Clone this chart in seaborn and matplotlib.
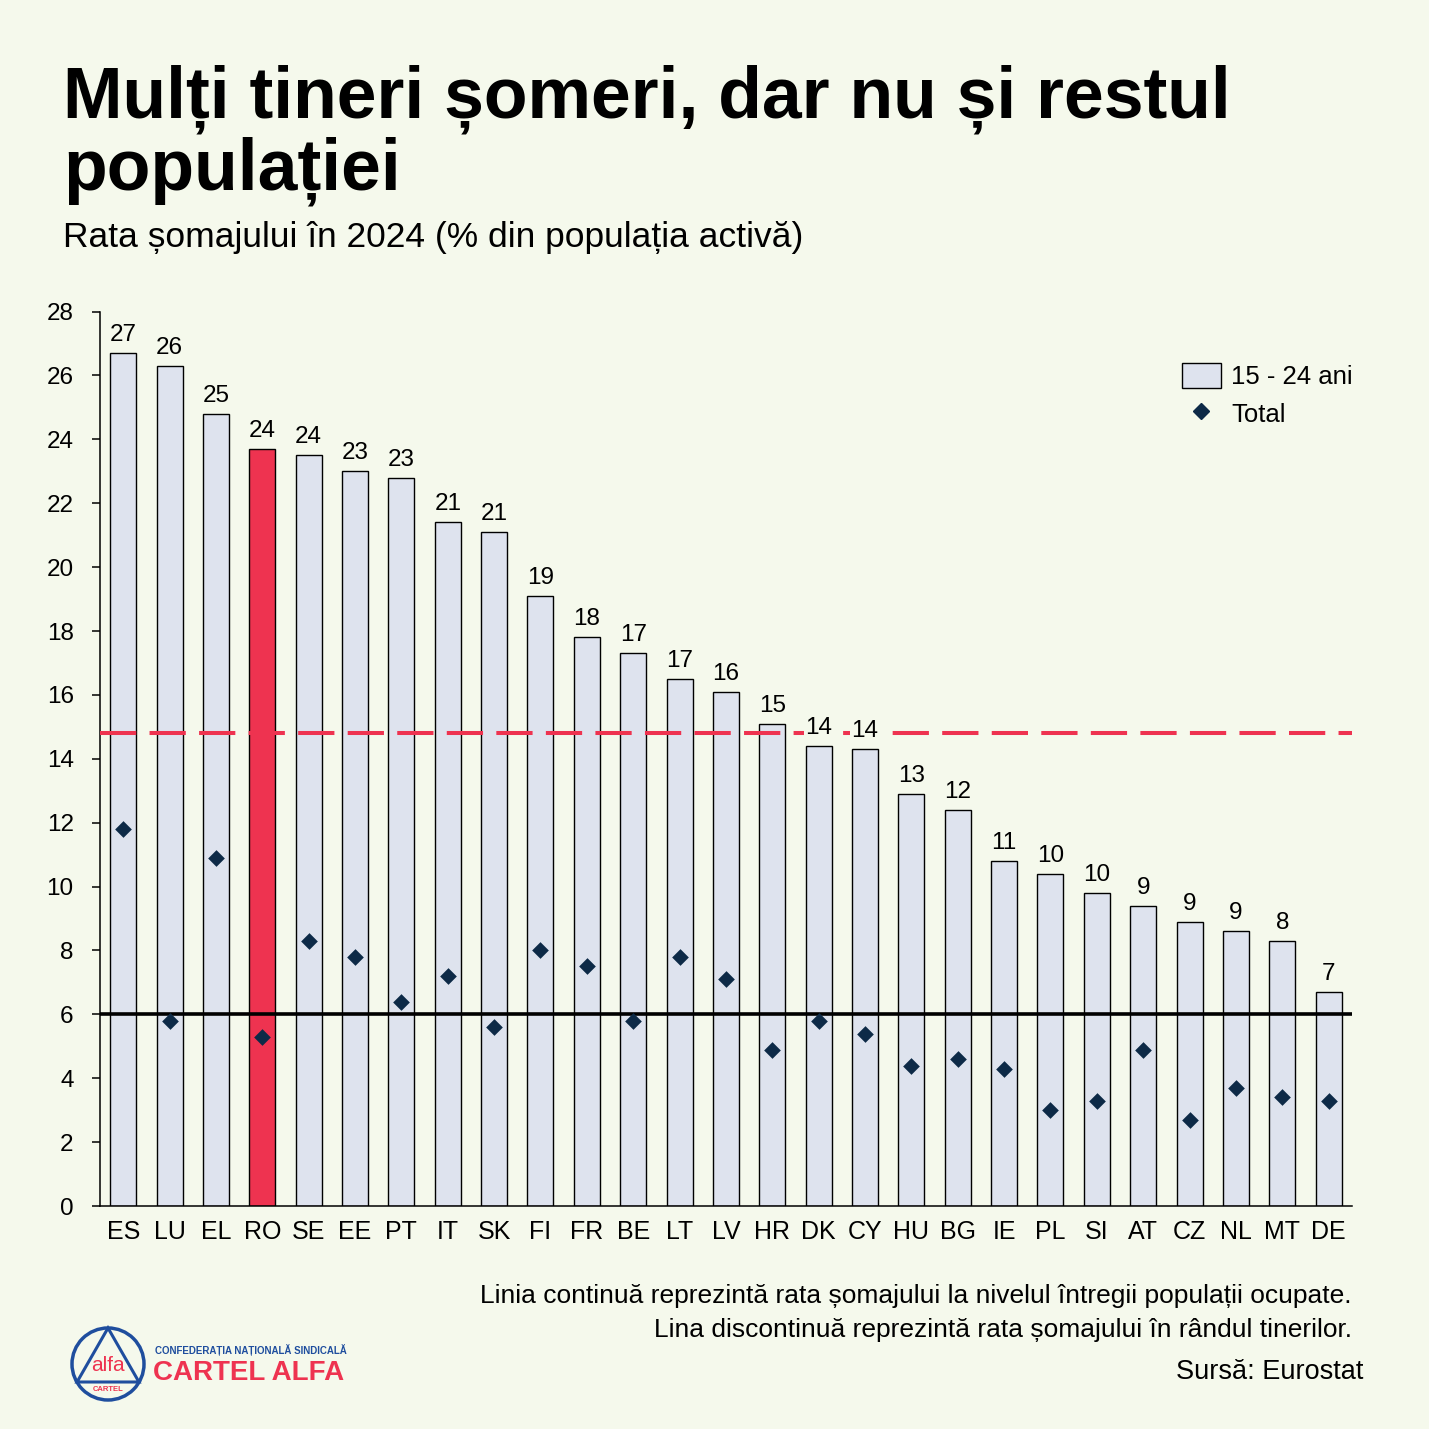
import matplotlib.pyplot as plt
import matplotlib.patches as mpatches
from matplotlib.lines import Line2D
import seaborn as sns
import pandas as pd

# Data (rata somajului 2024, % din populatia activa)
countries = ['ES', 'LU', 'EL', 'RO', 'SE', 'EE', 'PT', 'IT', 'SK', 'FI', 'FR', 'BE', 'LT', 'LV',
             'HR', 'DK', 'CY', 'HU', 'BG', 'IE', 'PL', 'SI', 'AT', 'CZ', 'NL', 'MT', 'DE']
youth = [26.7, 26.3, 24.8, 23.7, 23.5, 23.0, 22.8, 21.4, 21.1, 19.1, 17.8, 17.3, 16.5, 16.1,
         15.1, 14.4, 14.3, 12.9, 12.4, 10.8, 10.4, 9.8, 9.4, 8.9, 8.6, 8.3, 6.7]
total = [11.8, 5.8, 10.9, 5.3, 8.3, 7.8, 6.4, 7.2, 5.6, 8.0, 7.5, 5.8, 7.8, 7.1,
         4.9, 5.8, 5.4, 4.4, 4.6, 4.3, 3.0, 3.3, 4.9, 2.7, 3.7, 3.4, 3.3]
eu_total = 6.0
eu_youth = 14.8
yticks = list(range(0, 29, 2))

# Colors
bg = '#F5F9EC'
bar_color = '#DEE3EE'
red = '#EE3350'
navy = '#0D2A47'
blue = '#1F4E9E'

sns.set_style('ticks')
plt.rcParams['font.family'] = ['Liberation Sans', 'DejaVu Sans']
plt.rcParams.update({'text.color': 'black', 'xtick.color': 'black', 'ytick.color': 'black',
                     'axes.labelcolor': 'black'})

fig = plt.figure(figsize=(14.29, 14.29), dpi=100, facecolor=bg)
ax = fig.add_axes([0.070, 0.156, 0.876, 0.626])
ax.set_facecolor(bg)

df = pd.DataFrame({'country': countries, 'youth': youth, 'total': total})

# Bars for 15-24
sns.barplot(data=df, x='country', y='youth', color=bar_color, saturation=1,
            edgecolor='black', linewidth=1, width=0.56, ax=ax, zorder=2)
ax.patches[countries.index('RO')].set_facecolor(red)

# value labels (rounded), with background box so the dashed line goes behind them
labels = [str(int(v + 0.5)) for v in youth]
texts = ax.bar_label(ax.containers[0], labels=labels, padding=5, fontsize=17.5)
for t in texts:
    t.set_bbox(dict(facecolor=bg, edgecolor='none', pad=1))
    t.set_zorder(5)

# reference lines
ax.axhline(eu_total, color='black', lw=2.6, zorder=3)
ax.axhline(eu_youth, color=red, lw=2.9, dashes=(9, 3.3), zorder=3)

# total markers
sns.stripplot(data=df, x='country', y='total', marker='D', jitter=False, size=8.5,
              color=navy, linewidth=0, ax=ax, zorder=4)

ax.set_ylim(0, 28)
ax.set_xlim(-0.5, len(countries) - 0.5)
ax.set_yticks(yticks)
ax.set_xlabel('')
ax.set_ylabel('')
ax.tick_params(axis='y', labelsize=17.5, length=6, width=1.1, pad=13)
ax.tick_params(axis='x', labelsize=18, length=0, pad=10)
sns.despine(ax=ax)
for s in ['left', 'bottom']:
    ax.spines[s].set_linewidth(1.1)
    ax.spines[s].set_color('black')

# legend
handles = [mpatches.Patch(facecolor=bar_color, edgecolor='black', label='15 - 24 ani'),
           Line2D([], [], marker='D', ls='none', color=navy, markersize=8.5, label='Total')]
ax.legend(handles=handles, loc='upper right', bbox_to_anchor=(1.015, 0.963), frameon=False,
          fontsize=18.5, handlelength=1.5, handleheight=1.15, handletextpad=0.4, labelspacing=0.45,
          borderaxespad=0.3)

# Titles
fig.text(0.044, 1 - 117 / 1429, 'Mulți tineri șomeri, dar nu și restul', fontsize=51.5,
         fontweight='bold', va='baseline', ha='left')
fig.text(0.044, 1 - 190 / 1429, 'populației', fontsize=51.5,
         fontweight='bold', va='baseline', ha='left')
fig.text(0.044, 1 - 237 / 1429, 'Rata șomajului în 2024 (% din populația activă)', fontsize=25.5,
         va='center', ha='left')

# Footnotes
fig.text(1352 / 1429, 1 - 1296 / 1429,
         'Linia continuă reprezintă rata șomajului la nivelul întregii populații ocupate.',
         fontsize=19, ha='right', va='center')
fig.text(1352 / 1429, 1 - 1330 / 1429,
         'Lina discontinuă reprezintă rata șomajului în rândul tinerilor.',
         fontsize=19, ha='right', va='center')
fig.text(1363 / 1429, 1 - 1372 / 1429, 'Sursă: Eurostat', fontsize=19.5, ha='right', va='center')

# Logo
cx, cy, r = 108 / 1429, 1 - 1364 / 1429, 36 / 1429
fig.patches.append(mpatches.Circle((cx, cy), r, transform=fig.transFigure, fill=False,
                                   edgecolor=blue, lw=2.5))
tri = [(cx, cy + r), (cx - 0.86 * r, cy - 0.5 * r), (cx + 0.86 * r, cy - 0.5 * r)]
fig.patches.append(mpatches.Polygon(tri, closed=True, transform=fig.transFigure, fill=False,
                                    edgecolor=blue, lw=2.2))
fig.text(cx, cy - 0.05 * r, 'alfa', color=red, fontsize=15, ha='center', va='center')
fig.text(cx, cy - 0.72 * r, 'CARTEL', color=red, fontsize=5.5, fontweight='bold',
         ha='center', va='center')
fig.text(155 / 1429, 1 - 1350 / 1429, 'CONFEDERAȚIA NAȚIONALĂ SINDICALĂ', color=blue,
         fontsize=7, fontweight='bold', ha='left', va='center')
fig.text(153 / 1429, 1 - 1373 / 1429, 'CARTEL ALFA', color=red, fontsize=20, fontweight='bold',
         ha='left', va='center')

fig.savefig('out.png', dpi=100, facecolor=bg)
